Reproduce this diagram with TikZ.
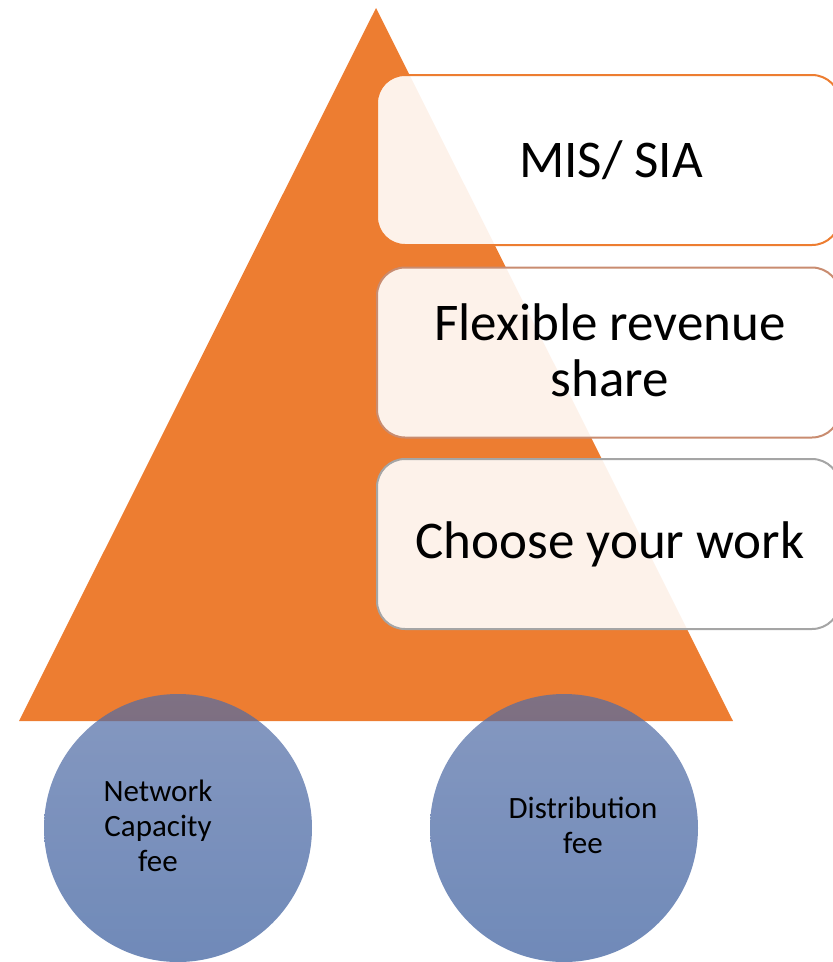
\documentclass[tikz,border=0pt]{standalone}
\usepackage{fontspec}
\setmainfont{Carlito}
\definecolor{pyr}{RGB}{237,125,49}
\definecolor{edgeA}{RGB}{237,125,49}
\definecolor{edgeB}{RGB}{201,140,112}
\definecolor{edgeC}{RGB}{165,165,165}
\definecolor{discTop}{RGB}{81,108,166}
\definecolor{discBot}{RGB}{51,88,154}
\begin{document}
\begin{tikzpicture}[x=1pt,y=-1pt,
  tier/.style={draw, line width=2pt, rounded corners=28pt, fill=white,
    fill opacity=0.9, minimum width=463pt, minimum height=170pt, inner sep=0pt},
  tiertext/.style={font=\fontsize{53}{56}\selectfont, align=center, text=black, inner sep=0pt},
  disc/.style={circle, minimum size=268pt, inner sep=0pt, draw=none,
    top color=discTop, bottom color=discBot, fill opacity=0.7},
  disctext/.style={font=\fontsize{31}{35}\selectfont, align=center, text=black, inner sep=0pt}]
\useasboundingbox (0,0) rectangle (833,962);
\clip (0,0) rectangle (833,962);

% pyramid
\path[fill=pyr] (376,8) coordinate (apex) -- (733,721) coordinate (br)
  -- (19,721) coordinate (bl) -- cycle;

% tiers
\node[tier, draw=edgeA] (t1) at (608.5,160) {};
\node[tier, draw=edgeB] (t2) at (608.5,352.5) {};
\node[tier, draw=edgeC] (t3) at (608.5,544) {};
\node[tiertext, anchor=base] (l1) at (611,177) {MIS/ SIA};
\node[tiertext] (l2) at (610,350) {Flexible revenue\\share};
\node[tiertext, anchor=base] (l3) at (610,558) {Choose your work};

% foundation discs
\node[disc] (d1) at (178,828) {};
\node[disc] (d2) at (564,828) {};
\node[disctext] (n1) at (158,825.5) {Network\\Capacity\\fee};
\node[disctext] (n2) at (583,825.5) {Distribution\\fee};
\end{tikzpicture}
\end{document}
